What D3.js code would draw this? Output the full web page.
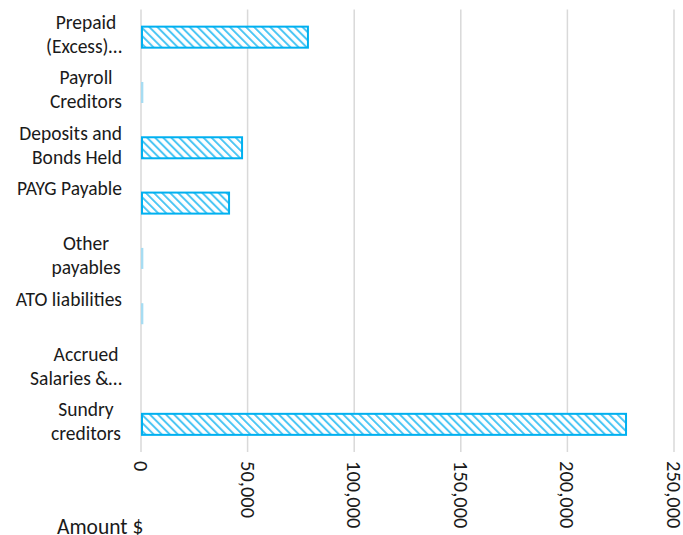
<!DOCTYPE html>
<html>
<head>
<script src="https://d3js.org/d3.v7.min.js"></script>
<style>
  body { margin: 0; background: #fff; }
  text { font-family: Carlito, Calibri, "Open Sans", "Noto Sans", sans-serif; fill: #1a1a1a; }
</style>
</head>
<body>
<svg id="chart" width="683" height="535"></svg>
<script>
// data
var categories = [
  ["Prepaid", "(Excess)\u2026"],
  ["Payroll", "Creditors"],
  ["Deposits and", "Bonds Held"],
  ["PAYG Payable"],
  ["Other", "payables"],
  ["ATO liabilities"],
  ["Accrued", "Salaries &\u2026"],
  ["Sundry", "creditors"]
];
var amounts = [78300, 1100, 47400, 41300, 1100, 1100, 0, 227500];
var tickValues = [0, 50000, 100000, 150000, 200000, 250000];
var axisTitle = "Amount $";

var blue = "#00B0F0";
var svg = d3.select("#chart");
var mLeft = 141, mRight = 674, mTop = 9.5, mBottom = 452;

var x = d3.scaleLinear().domain([0, 250000]).range([mLeft, mRight]);
var y = d3.scaleBand().domain(d3.range(categories.length)).range([mTop, mBottom]).paddingInner(0.62).paddingOuter(0.31);

var defs = svg.append("defs");
var pat = defs.append("pattern")
  .attr("id", "hatch")
  .attr("patternUnits", "userSpaceOnUse")
  .attr("width", 5.7).attr("height", 5.7)
  .attr("patternTransform", "rotate(-45)");
pat.append("rect").attr("width", 5.7).attr("height", 5.7).attr("fill", "#fff");
pat.append("rect").attr("width", 2).attr("height", 5.7).attr("fill", "#4cc6f4");

// gridlines
svg.append("g").selectAll("line")
  .data(tickValues)
  .join("line")
  .attr("x1", d => x(d)).attr("x2", d => x(d))
  .attr("y1", mTop).attr("y2", mBottom)
  .attr("stroke", "#d9d9d9")
  .attr("stroke-width", 1.5);

// bars
svg.append("g").selectAll("rect")
  .data(amounts)
  .join("rect")
  .attr("x", d => d > 5000 ? x(0) + 1 : x(0))
  .attr("y", (d, i) => y(i))
  .attr("width", d => d > 5000 ? x(d) - x(0) - 1 : x(d) - x(0))
  .attr("height", y.bandwidth())
  .attr("fill", d => d > 5000 ? "url(#hatch)" : "#a6dcf2")
  .attr("stroke", d => d > 5000 ? blue : "none")
  .attr("stroke-width", 2);

// category labels
var labels = svg.append("g").selectAll("text")
  .data(categories)
  .join("text")
  .attr("font-size", 19.5)
  .attr("text-anchor", "middle");

labels.each(function(lines, i) {
  var t = d3.select(this);
  var c = y(i) + y.bandwidth() / 2;
  lines.forEach(function(s, k) {
    var ts = t.append("tspan").attr("y", c + (k == 0 ? -8 : 16)).text(s);
    var w = ts.node().getComputedTextLength();
    ts.attr("x", Math.min(86, 122 - w / 2));
  });
});

// tick labels, rotated
svg.append("g").selectAll("text")
  .data(tickValues)
  .join("text")
  .attr("font-size", 20.5)
  .attr("transform", d => "translate(" + (x(d) - 7) + "," + 461 + ") rotate(90)")
  .text(d => d3.format(",")(d));

svg.append("text")
  .attr("x", 57).attr("y", 534)
  .attr("font-size", 21.5)
  .text(axisTitle);
</script>
</body>
</html>
